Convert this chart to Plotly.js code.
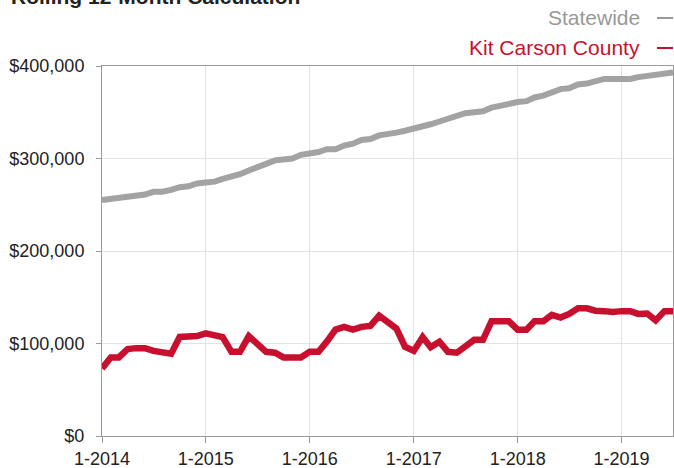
<!DOCTYPE html>
<html>
<head>
<meta charset="utf-8">
<script src="https://cdn.plot.ly/plotly-3.0.1.min.js"></script>
<style>
  html, body { margin: 0; padding: 0; background: #fff; }
  #chart { width: 674px; height: 468px; }
</style>
</head>
<body>
<div id="chart"></div>
<script>
// Months 1-2014 .. 7-2019 (x scale)
const months = [];
for (let y = 2014; y <= 2019; y++) {
  for (let m = 1; m <= 12; m++) {
    if (y === 2019 && m > 7) break;
    months.push(y + '-' + String(m).padStart(2, '0') + '-01');
  }
}

const seriesNames = ['Statewide', 'Kit Carson County'];
const chartTitle = 'Rolling 12-Month Calculation';

const statewide = [
  255000, 256000, 257000, 258000, 259000, 261000, 264000, 264000, 266000, 269000, 270000, 273000,
  274000, 275000, 278000, 280000, 283000, 287000, 291000, 294000, 298000, 299000, 300000, 304000,
  305000, 307000, 310000, 310000, 314000, 316000, 320000, 321000, 325000, 326000, 328000, 330000,
  332000, 335000, 337000, 340000, 343000, 346000, 349000, 350000, 351000, 355000, 357000, 360000,
  361000, 362000, 366000, 368000, 371000, 375000, 376000, 380000, 381000, 384000, 386000, 386000,
  386000, 386000, 388000, 389000, 391000, 391000, 393000
];

const kitCarson = [
  73000, 85000, 85000, 94000, 95000, 95000, 92000, 90000, 89000, 107000, 108000, 108000,
  111000, 108000, 107000, 91000, 91000, 108000, 99000, 91000, 90000, 85000, 85000, 85000,
  91000, 91000, 102000, 115000, 118000, 115000, 118000, 119000, 130000, 122500, 116000, 96500,
  92000, 107000, 96000, 102000, 91000, 90000, 98000, 104000, 104000, 124000, 124000, 124000,
  115000, 115000, 124000, 124000, 131000, 128000, 132000, 138000, 138000, 135500, 135000, 134000,
  135000, 135000, 132000, 132500, 125000, 135000, 135000
];

const yTickVals = [0, 100000, 200000, 300000, 400000];
const yTickText = ['$0', '$100,000', '$200,000', '$300,000', '$400,000'];
const xTickVals = ['2014-01-01', '2015-01-01', '2016-01-01', '2017-01-01', '2018-01-01', '2019-01-01'];
const xTickText = ['1-2014', '1-2015', '1-2016', '1-2017', '1-2018', '1-2019'];

const grayColor = '#a3a3a3';
const redColor = '#c8102e';
const FONT = 'Liberation Sans, Arial, Helvetica, sans-serif';

// plot area in pixels: left 102, right 673, top 66, bottom 436
const PX = (px) => (px - 102) / 571;
const PY = (py) => (436 - py) / 370;

const traces = [
  { x: months, y: statewide, name: seriesNames[0], type: 'scatter', mode: 'lines',
    line: { color: grayColor, width: 6 }, showlegend: false, hoverinfo: 'skip' },
  { x: months, y: kitCarson, name: seriesNames[1], type: 'scatter', mode: 'lines',
    line: { color: redColor, width: 6.5 }, showlegend: false, hoverinfo: 'skip' }
];

const layout = {
  width: 674, height: 468,
  margin: { l: 102, r: 1, t: 66, b: 32 },
  paper_bgcolor: '#ffffff', plot_bgcolor: '#ffffff',
  font: { family: FONT, color: '#222222', size: 18 },
  xaxis: {
    type: 'date',
    range: ['2014-01-01', '2019-07-01'],
    tickvals: xTickVals, ticktext: xTickText,
    showgrid: true, gridcolor: '#e3e3e3', gridwidth: 1,
    showline: true, linecolor: '#9a9a9a', linewidth: 1, mirror: true,
    ticks: 'outside', ticklen: 6, tickcolor: '#9a9a9a',
    tickfont: { family: FONT, size: 18, color: '#222222' },
    zeroline: false, fixedrange: true
  },
  yaxis: {
    range: [0, 400000],
    tickvals: yTickVals, ticktext: yTickText,
    showgrid: true, gridcolor: '#e3e3e3', gridwidth: 1,
    showline: true, linecolor: '#9a9a9a', linewidth: 1, mirror: true,
    ticks: 'outside', ticklen: 5, tickcolor: '#9a9a9a',
    ticklabelstandoff: 8,
    tickfont: { family: FONT, size: 18, color: '#222222' },
    zeroline: false, fixedrange: true
  },
  annotations: [
    { text: chartTitle, xref: 'paper', yref: 'paper', x: PX(9), xanchor: 'left',
      y: PY(-3), yanchor: 'middle', showarrow: false,
      font: { family: FONT, size: 21, color: '#222222', weight: 'bold' } },
    { text: seriesNames[0], xref: 'paper', yref: 'paper', x: PX(642), xanchor: 'right',
      y: PY(17), yanchor: 'middle', showarrow: false,
      font: { family: FONT, size: 21, color: '#999999' } },
    { text: seriesNames[1], xref: 'paper', yref: 'paper', x: PX(642), xanchor: 'right',
      y: PY(47), yanchor: 'middle', showarrow: false,
      font: { family: FONT, size: 21, color: redColor } }
  ],
  shapes: [
    { type: 'line', xref: 'paper', yref: 'paper', x0: PX(657), x1: PX(673),
      y0: PY(18), y1: PY(18), line: { color: '#999999', width: 2 } },
    { type: 'line', xref: 'paper', yref: 'paper', x0: PX(657), x1: PX(673),
      y0: PY(48), y1: PY(48), line: { color: redColor, width: 2 } }
  ]
};

Plotly.newPlot('chart', traces, layout, { displayModeBar: false, staticPlot: true });
</script>
</body>
</html>
